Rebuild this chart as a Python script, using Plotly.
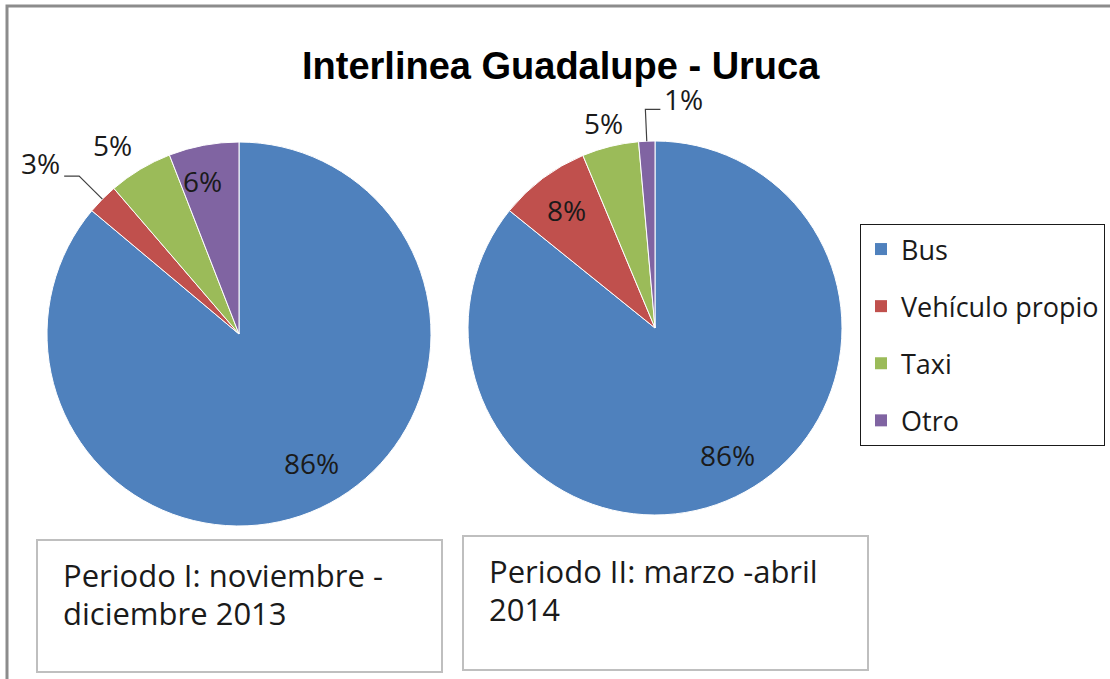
import math
import plotly.graph_objects as go

# ---------------- data ----------------
categories = ["Bus", "Vehículo propio", "Taxi", "Otro"]
periodo1_values = [86.1, 2.6, 5.4, 5.9]
periodo2_values = [85.8, 7.9, 4.9, 1.4]
colors = ["#4F81BD", "#C0504D", "#9BBB59", "#8064A2"]
title_text = "Interlinea Guadalupe - Uruca"
box1_lines = ["Periodo I: noviembre -", "diciembre 2013"]
box2_lines = ["Periodo II: marzo -abril", "2014"]

# ---------------- layout constants ----------------
W, H = 1110, 679
FONT = "Open Sans"
TXT = "#1a1a1a"
pies = [
    dict(values=periodo1_values, cx=239, cy=334, r=192,
         # per-slice label: (kind, radial factor, dx, dy)
         labels=[("in", 0.74, 12, 0), ("leader", 1.37, 0, 0),
                 ("out", 1.17, -11, 4), ("in", 0.81, -8, 0)]),
    dict(values=periodo2_values, cx=655, cy=328, r=187,
         labels=[("in", 0.75, 12, 0), ("in", 0.79, 0, 0),
                 ("out", 1.12, -1, -2), ("leader", 1.2, 0, 0)]),
]


def px(x):
    return x / W


def py(y):
    return 1 - y / H


fig = go.Figure()
annotations = []
shapes = []

for p in pies:
    cx, cy, r = p["cx"], p["cy"], p["r"]
    vals = p["values"]
    fig.add_trace(go.Pie(
        values=vals, labels=categories,
        marker=dict(colors=colors, line=dict(color="white", width=1)),
        domain=dict(x=[px(cx - r), px(cx + r)], y=[py(cy + r), py(cy - r)]),
        direction="clockwise", rotation=0, sort=False,
        textinfo="none", showlegend=False, hoverinfo="label+percent",
    ))
    total = sum(vals)
    cum = 0.0
    for v, (kind, k, dx, dy) in zip(vals, p["labels"]):
        mid = (cum + v / 2) / total * 2 * math.pi
        cum += v
        s, c = math.sin(mid), math.cos(mid)
        txt = f"{round(v / total * 100)}%"
        if kind in ("in", "out"):
            annotations.append(dict(
                x=px(cx + s * k * r + dx), y=py(cy - c * k * r + dy),
                xref="paper", yref="paper",
                text=txt, showarrow=False, xanchor="center", yanchor="middle",
                font=dict(family=FONT, size=28, color=TXT)))
        else:
            ex, ey = cx + s * r, cy - c * r
            bx, by = cx + s * 1.17 * r, cy - c * 1.17 * r
            direction = -1 if s < -0.2 else 1
            endx = bx + direction * 15
            shapes.append(dict(
                type="path", xref="paper", yref="paper",
                path=f"M {px(ex)} {py(ey)} L {px(bx)} {py(by)} L {px(endx)} {py(by)}",
                line=dict(color="#404040", width=1.2)))
            annotations.append(dict(
                x=px(endx + direction * 2), y=py(by - (13 if direction < 0 else 10)),
                xref="paper", yref="paper", text=txt, showarrow=False,
                xanchor="right" if direction < 0 else "left", yanchor="middle",
                font=dict(family=FONT, size=28, color=TXT)))

# legend via marker-only traces (one group each so spacing can be set)
for cat, col in zip(categories, colors):
    fig.add_trace(go.Scatter(
        x=[None], y=[None], mode="markers", name=cat, legendgroup=cat,
        marker=dict(symbol="square", size=15, color=col), showlegend=True))

# title
annotations.append(dict(
    x=px(561), y=py(66), xref="paper", yref="paper", text=f"<b>{title_text}</b>",
    showarrow=False, xanchor="center", yanchor="middle",
    font=dict(family="Liberation Sans", size=38, color="black")))

# text boxes
boxes = [((37, 540, 442, 672), 61, (575, 613), box1_lines),
         ((463, 536, 868, 670), 487, (571, 609), box2_lines)]
for (x0, y0, x1, y1), tx, tys, lines in boxes:
    shapes.append(dict(type="rect", xref="paper", yref="paper",
                       x0=px(x0), y0=py(y1), x1=px(x1), y1=py(y0),
                       line=dict(color="#bfbfbf", width=2), fillcolor="white", layer="below"))
    for ty, t in zip(tys, lines):
        annotations.append(dict(x=px(tx), y=py(ty), xref="paper", yref="paper", text=t,
                                showarrow=False, xanchor="left", yanchor="middle", align="left",
                                font=dict(family=FONT, size=31, color=TXT)))

# outer border (extends beyond the picture on right / bottom)
shapes.append(dict(type="rect", xref="paper", yref="paper",
                   x0=px(7), y0=py(H + 20), x1=px(W + 20), y1=py(6),
                   line=dict(color="#8c8c8c", width=3), layer="below"))

fig.update_layout(
    width=W, height=H, margin=dict(l=0, r=0, t=0, b=0),
    paper_bgcolor="white", plot_bgcolor="white",
    xaxis=dict(visible=False), yaxis=dict(visible=False),
    annotations=annotations, shapes=shapes,
    legend=dict(x=px(860), y=py(224), xanchor="left", yanchor="top",
                bordercolor="#1a1a1a", borderwidth=1, bgcolor="white",
                tracegroupgap=19, itemsizing="constant",
                font=dict(family=FONT, size=27, color=TXT)),
    showlegend=True,
)

fig.write_html("out.html", config={"displayModeBar": False},
               post_script="document.body.style.margin='0';")
